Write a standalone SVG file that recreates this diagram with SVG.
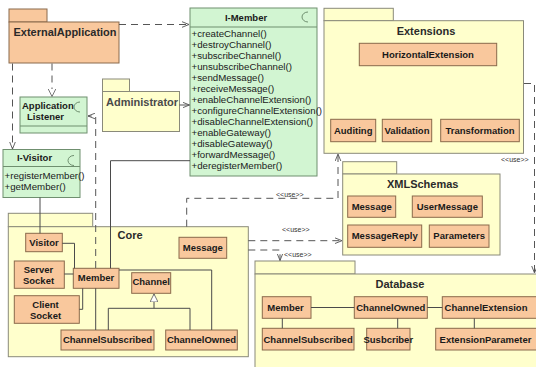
<svg xmlns="http://www.w3.org/2000/svg" width="536" height="367" viewBox="0 0 536 367">
<defs>
<style>
.pkg{fill:#FFFFCC;stroke:#8a8a7a;stroke-width:1}
.cls{fill:#F9C89D;stroke:#8a6a4c;stroke-width:1}
.ifc{fill:#D2F5D2;stroke:#6f8f6f;stroke-width:1}
.t{font-family:"Liberation Sans",Arial,sans-serif;font-weight:bold;font-size:9.5px;fill:#1a1a1a}
.c{text-anchor:middle}
.pt{font-family:"Liberation Sans",Arial,sans-serif;font-weight:bold;font-size:11px;fill:#2a2a2a}
.m{font-family:"Liberation Sans",Arial,sans-serif;font-size:9.7px;fill:#1a1a1a}
.u{font-family:"Liberation Sans",Arial,sans-serif;font-size:7px;fill:#333}
.ln{stroke:#4a4a4a;fill:none;stroke-width:1}
.dl{stroke:#555;fill:none;stroke-width:1;stroke-dasharray:7 5}
.ic{stroke:#6f8f6f;fill:none;stroke-width:1}
</style>
<marker id="open" viewBox="0 0 10 10" refX="10" refY="5" markerWidth="7" markerHeight="7" markerUnits="userSpaceOnUse" orient="auto"><path d="M0,1 L10,5 L0,9" fill="none" stroke="#555" stroke-width="1.3"/></marker>
<marker id="tri" viewBox="0 0 10 10" refX="10" refY="5" markerWidth="8" markerHeight="8" markerUnits="userSpaceOnUse" orient="auto"><path d="M0,0 L10,5 L0,10 z" fill="#fff" stroke="#555" stroke-width="1"/></marker>
</defs>
<rect width="536" height="367" fill="#fff"/>

<g id="externalApplication">
<rect class="cls" x="9" y="9" width="38" height="13"/>
<rect class="cls" x="9" y="22" width="110" height="41"/>
<text class="pt" x="13.5" y="36" textLength="103" lengthAdjust="spacingAndGlyphs">ExternalApplication</text>
</g>

<g id="iMember">
<rect class="ifc" x="190" y="8" width="127" height="168"/>
<line class="ic" x1="190" y1="27" x2="317" y2="27"/>
<text class="t c" x="246" y="20.5">I-Member</text>
<path class="ic" d="M308,12 A6,5 0 0 0 308,22"/>
<text class="m" x="191.5" y="37.2">+createChannel()</text>
<text class="m" x="191.5" y="48.2">+destroyChannel()</text>
<text class="m" x="191.5" y="59.2">+subscribeChannel()</text>
<text class="m" x="191.5" y="70.2">+unsubscribeChannel()</text>
<text class="m" x="191.5" y="81.2">+sendMessage()</text>
<text class="m" x="191.5" y="92.2">+receiveMessage()</text>
<text class="m" x="191.5" y="103.2">+enableChannelExtension()</text>
<text class="m" x="191.5" y="114.2">+configureChannelExtension()</text>
<text class="m" x="191.5" y="125.2">+disableChannelExtension()</text>
<text class="m" x="191.5" y="136.2">+enableGateway()</text>
<text class="m" x="191.5" y="147.2">+disableGateway()</text>
<text class="m" x="191.5" y="158.2">+forwardMessage()</text>
<text class="m" x="191.5" y="169.2">+deregisterMember()</text>
</g>

<g id="administrator">
<rect class="pkg" x="102.5" y="79" width="27" height="12.5"/>
<rect class="pkg" x="102.5" y="91.5" width="77" height="40"/>
<text class="pt" x="106" y="105.5" style="fill:#4a4a4a">Administrator</text>
</g>

<g id="applicationListener">
<rect class="ifc" x="20" y="97" width="67" height="36"/>
<line class="ic" x1="20" y1="126" x2="87" y2="126"/>
<text class="t" x="22" y="108.5">Application</text>
<text class="t" x="27" y="119.5">Listener</text>
<path class="ic" d="M80,102 A6,5 0 0 0 80,112"/>
</g>

<g id="iVisitor">
<rect class="ifc" x="3" y="149.5" width="77" height="48"/>
<line class="ic" x1="3" y1="166.5" x2="80" y2="166.5"/>
<text class="t c" x="34.5" y="160.5">I-Visitor</text>
<path class="ic" d="M74,155.5 A6,5 0 0 0 74,165.5"/>
<text class="m" x="4.5" y="179">+registerMember()</text>
<text class="m" x="4.5" y="190">+getMember()</text>
</g>

<g id="extensions">
<rect class="pkg" x="324" y="8.3" width="69.3" height="12.4"/>
<rect class="pkg" x="324" y="20.7" width="199.5" height="132.6"/>
<text class="pt c" x="426" y="34.5">Extensions</text>
<g id="horizontalExtension"><rect class="cls" x="359.3" y="43.3" width="137.4" height="22.4"/><text class="t c" x="428" y="57.5">HorizontalExtension</text></g>
<g id="auditing"><rect class="cls" x="330.7" y="119.3" width="45" height="22.4"/><text class="t c" x="353.2" y="133.5">Auditing</text></g>
<g id="validation"><rect class="cls" x="382.3" y="119.3" width="49.4" height="22.4"/><text class="t c" x="407" y="133.5">Validation</text></g>
<g id="transformation"><rect class="cls" x="440.7" y="119.3" width="78.6" height="22.4"/><text class="t c" x="480" y="133.5">Transformation</text></g>
</g>

<g id="xmlSchemas">
<rect class="pkg" x="342.7" y="161.7" width="54" height="12.3"/>
<rect class="pkg" x="342.7" y="174" width="157.3" height="81"/>
<text class="pt c" x="422.7" y="187.5">XMLSchemas</text>
<g id="xmlMessage"><rect class="cls" x="347.7" y="196" width="48" height="21.3"/><text class="t c" x="371.7" y="209.8">Message</text></g>
<g id="userMessage"><rect class="cls" x="412.3" y="196" width="70" height="21.3"/><text class="t c" x="447.3" y="209.8">UserMessage</text></g>
<g id="messageReply"><rect class="cls" x="347.7" y="225" width="74" height="22.3"/><text class="t c" x="384.7" y="239.3">MessageReply</text></g>
<g id="parameters"><rect class="cls" x="429.3" y="225" width="59.7" height="22.3"/><text class="t c" x="459.2" y="239.3">Parameters</text></g>
</g>

<g id="database">
<rect class="pkg" x="255" y="261" width="100" height="13"/>
<rect class="pkg" x="255" y="274" width="285" height="96"/>
<text class="pt c" x="400" y="287.5">Database</text>
<g id="dbMember"><rect class="cls" x="262.3" y="296.7" width="48.7" height="21.6"/><text class="t c" x="285.5" y="310.8">Member</text></g>
<g id="dbChannelOwned"><rect class="cls" x="354.3" y="296.7" width="73" height="21.6"/><text class="t c" x="390.8" y="310.8">ChannelOwned</text></g>
<g id="dbChannelExtension"><rect class="cls" x="442.3" y="296.7" width="97" height="21.6"/><text class="t c" x="486" y="310.8">ChannelExtension</text></g>
<g id="dbChannelSubscribed"><rect class="cls" x="262.3" y="328.3" width="91.7" height="21.7"/><text class="t c" x="308.1" y="342.5">ChannelSubscribed</text></g>
<g id="dbSusbcriber"><rect class="cls" x="366.7" y="328.3" width="43.3" height="21.7"/><text class="t c" x="388.3" y="342.5">Susbcriber</text></g>
<g id="dbExtensionParameter"><rect class="cls" x="435.7" y="328.3" width="103" height="21.7"/><text class="t c" x="485.5" y="342.5">ExtensionParameter</text></g>
</g>

<g id="core">
<rect class="pkg" x="8.3" y="213.3" width="84.4" height="13.4"/>
<rect class="pkg" x="8.3" y="226.7" width="240" height="130"/>
<text class="pt c" x="130" y="239">Core</text>
<g id="visitor"><rect class="cls" x="25.7" y="233.3" width="36.6" height="18.4"/><text class="t c" x="44" y="246">Visitor</text></g>
<g id="message"><rect class="cls" x="179" y="237.3" width="47.7" height="21"/><text class="t c" x="202.8" y="251">Message</text></g>
<g id="serverSocket"><rect class="cls" x="14.3" y="261" width="50" height="27.3"/><text class="t c" x="38.5" y="272.5">Server</text><text class="t c" x="38.5" y="283.5">Socket</text></g>
<g id="member"><rect class="cls" x="73.3" y="268.3" width="45.7" height="20"/><text class="t c" x="96" y="280.5">Member</text></g>
<g id="channel"><rect class="cls" x="131.7" y="272.7" width="39" height="20.6"/><text class="t c" x="151.2" y="285">Channel</text></g>
<g id="clientSocket"><rect class="cls" x="14.3" y="295.7" width="65" height="27.6"/><text class="t c" x="45.5" y="307.5">Client</text><text class="t c" x="45.5" y="318.5">Socket</text></g>
<g id="channelSubscribed"><rect class="cls" x="61" y="330" width="93" height="20"/><text class="t c" x="107.5" y="343">ChannelSubscribed</text></g>
<g id="channelOwned"><rect class="cls" x="165.7" y="330" width="71.6" height="20"/><text class="t c" x="201.5" y="343">ChannelOwned</text></g>
</g>

<g id="connectors">
<path class="dl" d="M119,24.5 H189" marker-end="url(#open)"/>
<path class="dl" d="M52,63.5 V96.5" marker-end="url(#tri)"/>
<path class="dl" d="M12.5,63.5 V149" marker-end="url(#open)"/>
<path class="dl" d="M179.5,105 H189.5" style="stroke-dasharray:none" marker-end="url(#open)"/>
<path class="dl" d="M95.7,268 V116 H88" marker-end="url(#open)"/>
<path class="ln" d="M110.5,268.3 V160.7 H190"/>
<path class="ln" d="M40,197.5 V233.3"/>
<path class="dl" d="M186.7,226.7 V198.3 H338 V154" marker-end="url(#open)"/>
<text class="u" x="276" y="197">&lt;&lt;use&gt;&gt;</text>
<path class="dl" d="M248.3,240.7 H342" marker-end="url(#open)"/>
<text class="u" x="282" y="232">&lt;&lt;use&gt;&gt;</text>
<path class="dl" d="M248.3,250 H280 V260.5" marker-end="url(#open)"/>
<text class="u" x="284" y="257">&lt;&lt;use&gt;&gt;</text>
<path class="dl" d="M524,83.5 H534.5 V273" marker-end="url(#open)"/>
<text class="u" x="501" y="162">&lt;&lt;use&gt;&gt;</text>
<path class="ln" d="M62.3,243.3 H74.5 V268.3"/>
<path class="ln" d="M64.3,274 H73.3"/>
<path class="ln" d="M79.3,309.3 H82.7 V288.3"/>
<path class="ln" d="M95.7,288.3 V330"/>
<path class="ln" d="M119,270 H211.7 V330"/>
<path class="ln" d="M154,308.3 V294" marker-end="url(#tri)"/>
<path class="ln" d="M108.3,330 V308.3 H190 V330"/>
<path class="ln" d="M311,307.5 H354.3"/>
<path class="ln" d="M427.3,307.5 H442.3"/>
<path class="ln" d="M282.3,318.3 V328.3"/>
<path class="ln" d="M397.7,318.3 V328.3"/>
<path class="ln" d="M474.3,318.3 V328.3"/>
</g>
</svg>
